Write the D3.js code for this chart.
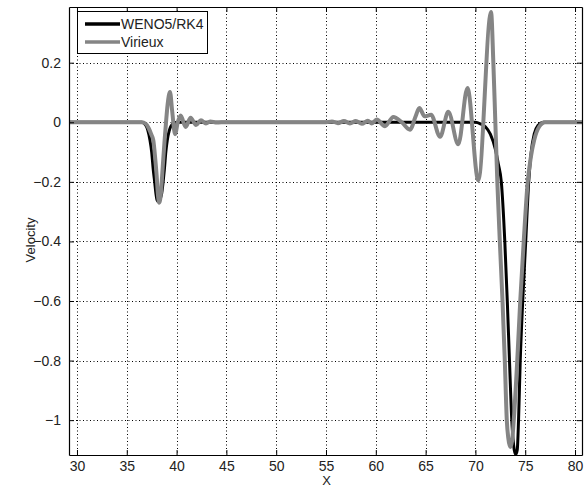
<!DOCTYPE html>
<html>
<head>
<meta charset="utf-8">
<script src="https://cdn.jsdelivr.net/npm/d3@7"></script>
<style>
  html, body { margin: 0; padding: 0; background: #fff; }
  svg { display: block; }
  text { font-family: "Liberation Sans", Arial, sans-serif; fill: #222; }
</style>
</head>
<body>
<svg id="chart" width="585" height="487"></svg>
<script>
// ---- data ----
const xTicks = [30, 35, 40, 45, 50, 55, 60, 65, 70, 75, 80];
const yTicks = [-1, -0.8, -0.6, -0.4, -0.2, 0, 0.2];
const seriesNames = ["WENO5/RK4", "Virieux"];
const seriesColors = ["#000000", "#858585"];

const wenoX = [29.2, 36.5, 36.9, 37.1, 37.33, 37.5, 37.66, 37.8, 37.93, 38.05, 38.16, 38.3, 38.5, 38.65, 38.77, 38.92, 39.07, 39.25, 39.4, 39.6, 39.9, 40.3,
  70.0, 70.5, 71.0, 71.5, 72.0, 72.3, 72.6, 72.95, 73.2, 73.42, 73.65, 73.9, 74.05, 74.2, 74.33, 74.5, 74.75, 75.05, 75.35, 75.6, 75.9, 76.3, 76.8, 80.8];
const wenoV = [0, 0, -0.01, -0.025, -0.06, -0.1, -0.16, -0.2, -0.24, -0.262, -0.267, -0.26, -0.24, -0.2, -0.16, -0.1, -0.06, -0.03, -0.015, -0.006, -0.001, 0,
  0, -0.005, -0.015, -0.04, -0.09, -0.14, -0.2, -0.4, -0.6, -0.8, -1.0, -1.1, -1.115, -1.1, -1.0, -0.8, -0.6, -0.4, -0.2, -0.1, -0.04, -0.01, 0, 0];

const virieuxX = [29.2, 36.5, 36.9, 37.2, 37.45, 37.66, 37.85, 38.0, 38.12, 38.26, 38.42, 38.55, 38.67, 38.8, 38.94, 39.1, 39.34, 39.55, 39.85, 40.12, 40.41, 40.91, 41.41, 41.95, 42.45, 42.95, 43.42, 43.9, 44.5,
  55.0, 55.6, 56.2, 56.8, 57.4, 58.0, 58.6, 59.2, 59.6, 60.09, 60.92, 61.76, 62.6, 63.43, 64.0, 64.37, 64.9, 65.55, 66.45, 67.28, 68.28, 69.2, 70.29, 71.57,
  71.8, 72.0, 72.2, 72.45, 72.72, 72.95, 73.15, 73.3, 73.5, 73.68, 73.85, 74.2, 74.5, 74.85, 75.25, 75.55, 75.9, 76.4, 77.0, 80.8];
const virieuxV = [0, 0, -0.005, -0.02, -0.04, -0.06, -0.12, -0.18, -0.24, -0.27, -0.24, -0.18, -0.12, -0.06, 0, 0.06, 0.102, 0.04, -0.04, 0, 0.023, -0.016, 0.015, -0.009, 0.007, -0.004, 0.003, -0.001, 0,
  0, 0.003, -0.003, 0.004, -0.004, 0.004, -0.005, 0.005, -0.004, 0.009, -0.013, 0.018, 0, -0.025, 0.02, 0.048, 0.02, 0.025, -0.049, 0.035, -0.074, 0.115, -0.195, 0.37,
  0.2, 0, -0.2, -0.4, -0.6, -0.8, -1.0, -1.06, -1.09, -1.07, -1.0, -0.8, -0.6, -0.4, -0.2, -0.12, -0.06, -0.015, 0, 0];

// ---- layout ----
const svg = d3.select("#chart");
const pL = 69, pR = 582, pT = 7, pB = 455;
const x = d3.scaleLinear().domain([29.2, 80.7]).range([pL, pR]);
const y = d3.scaleLinear().domain([-1.117, 0.387]).range([pB, pT]);

// gridlines
const grid = svg.append("g").attr("stroke", "#000").attr("stroke-width", 1).attr("stroke-dasharray", "1,2.5");
grid.selectAll(".gx").data(xTicks).join("line")
  .attr("x1", d => Math.round(x(d)) + 0.5).attr("x2", d => Math.round(x(d)) + 0.5)
  .attr("y1", pT).attr("y2", pB);
grid.selectAll(".gy").data(yTicks).join("line")
  .attr("y1", d => Math.round(y(d)) + 0.5).attr("y2", d => Math.round(y(d)) + 0.5)
  .attr("x1", pL).attr("x2", pR);

// clip
svg.append("clipPath").attr("id", "clip").append("rect")
  .attr("x", pL).attr("y", pT).attr("width", pR - pL).attr("height", pB - pT);

const line = d3.line().x(d => x(d[0])).y(d => y(d[1])).curve(d3.curveMonotoneX);
const series = [
  { name: seriesNames[0], color: seriesColors[0], width: 3, pts: d3.zip(wenoX, wenoV) },
  { name: seriesNames[1], color: seriesColors[1], width: 4, pts: d3.zip(virieuxX, virieuxV) }
];
const plot = svg.append("g").attr("clip-path", "url(#clip)");
series.forEach(s => {
  plot.append("path").attr("d", line(s.pts)).attr("fill", "none")
    .attr("stroke", s.color).attr("stroke-width", s.width).attr("stroke-linejoin", "round");
});

// axes (box with inward ticks)
const fmt = d => d === 0 ? "0" : String(d).replace("-", "\u2212");
const axB = svg.append("g").attr("transform", `translate(0,${pB})`)
  .call(d3.axisBottom(x).tickValues(xTicks).tickSizeInner(-5).tickSizeOuter(0).tickPadding(6).tickFormat(d => d));
const axT = svg.append("g").attr("transform", `translate(0,${pT})`)
  .call(d3.axisTop(x).tickValues(xTicks).tickSizeInner(-5).tickSizeOuter(0).tickFormat(""));
const axL = svg.append("g").attr("transform", `translate(${pL},0)`)
  .call(d3.axisLeft(y).tickValues(yTicks).tickSizeInner(-5).tickSizeOuter(0).tickPadding(8).tickFormat(fmt));
const axR = svg.append("g").attr("transform", `translate(${pR},0)`)
  .call(d3.axisRight(y).tickValues(yTicks).tickSizeInner(-5).tickSizeOuter(0).tickFormat(""));
[axB, axT, axL, axR].forEach(a => {
  a.select(".domain").attr("stroke", "#000").attr("stroke-width", 1.2);
  a.selectAll(".tick line").attr("stroke", "#000");
  a.selectAll("text").attr("font-size", 14).attr("fill", "#222")
    .attr("font-family", "'Liberation Sans', Arial, sans-serif");
});

// axis labels
svg.append("text").attr("x", (pL + pR) / 2 + 1).attr("y", 485).attr("text-anchor", "middle")
  .attr("font-size", 13).text("X");
svg.append("text").attr("transform", `translate(35,240) rotate(-90)`)
  .attr("text-anchor", "middle").attr("font-size", 13).text("Velocity");

// legend
const lg = svg.append("g");
lg.append("rect").attr("x", 77.5).attr("y", 11.5).attr("width", 130).attr("height", 42)
  .attr("fill", "#fff").attr("stroke", "#000").attr("stroke-width", 1);
series.forEach((s, i) => {
  const ly = 24 + i * 18;
  lg.append("line").attr("x1", 85).attr("x2", 120).attr("y1", ly).attr("y2", ly)
    .attr("stroke", s.color).attr("stroke-width", 3.5);
  lg.append("text").attr("x", 121).attr("y", ly + 5).attr("font-size", 14).text(s.name);
});
</script>
</body>
</html>
